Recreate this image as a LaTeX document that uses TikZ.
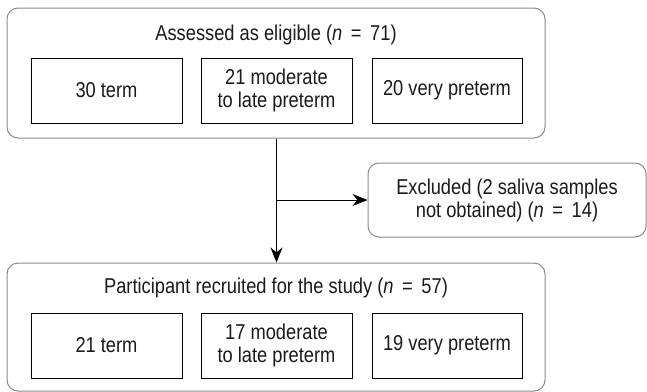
\documentclass[tikz,border=0pt]{standalone}
\usepackage{fontspec}
\setmainfont{Liberation Sans}[FakeStretch=0.85]
\usetikzlibrary{arrows.meta}
\definecolor{txt}{HTML}{1A1A1A}
\definecolor{frame}{HTML}{8A8A8A}
\newcommand{\eqsp}{\hspace{0.4em}=\hspace{0.4em}}
\tikzset{
  outer/.style={draw=frame, line width=1pt, rounded corners=11pt, inner sep=0pt},
  inbox/.style={draw=black, line width=1pt, minimum width=151pt, minimum height=65pt, inner sep=0pt, align=center, text=txt, font=\fontsize{21.5}{23}\selectfont},
  lbl/.style={text=txt, font=\fontsize{21.5}{23}\selectfont, inner sep=0pt, align=center},
  flow/.style={draw=black, line width=1pt, -{Stealth[length=15pt, width=12pt]}}
}
\begin{document}
\begin{tikzpicture}[x=1pt, y=-1pt]
\useasboundingbox (0,0) rectangle (647,391);
% top group
\node[outer, minimum width=538pt, minimum height=130pt] (top) at (276,73) {};
\node[lbl] (t0) at (276,35) {Assessed as eligible (\textit{n}\eqsp71)};
\node[inbox] (t1) at (106.5,90.5) {30 term};
\node[inbox] (t2) at (276.5,90.5) {21 moderate\\to late preterm};
\node[inbox, minimum width=150pt] (t3) at (447,90.5) {20 very preterm};
% excluded
\node[outer, minimum width=278pt, minimum height=74pt] (ex) at (507,200) {};
\node[lbl] (exl) at (507,200) {Excluded (2 saliva samples\\not obtained) (\textit{n}\eqsp14)};
% bottom group
\node[outer, minimum width=538pt, minimum height=128pt] (bot) at (276,327) {};
\node[lbl] (b0) at (276,288) {Participant recruited for the study (\textit{n}\eqsp57)};
\node[inbox] (b1) at (106.5,345.5) {21 term};
\node[inbox] (b2) at (276.5,345.5) {17 moderate\\to late preterm};
\node[inbox, minimum width=150pt] (b3) at (447,345.5) {19 very preterm};
% connectors
\coordinate (br) at (276.5,200);
\draw[flow] (top.south -| br) -- (bot.north -| br);
\draw[flow] (br) -- (ex.west);
\end{tikzpicture}
\end{document}
